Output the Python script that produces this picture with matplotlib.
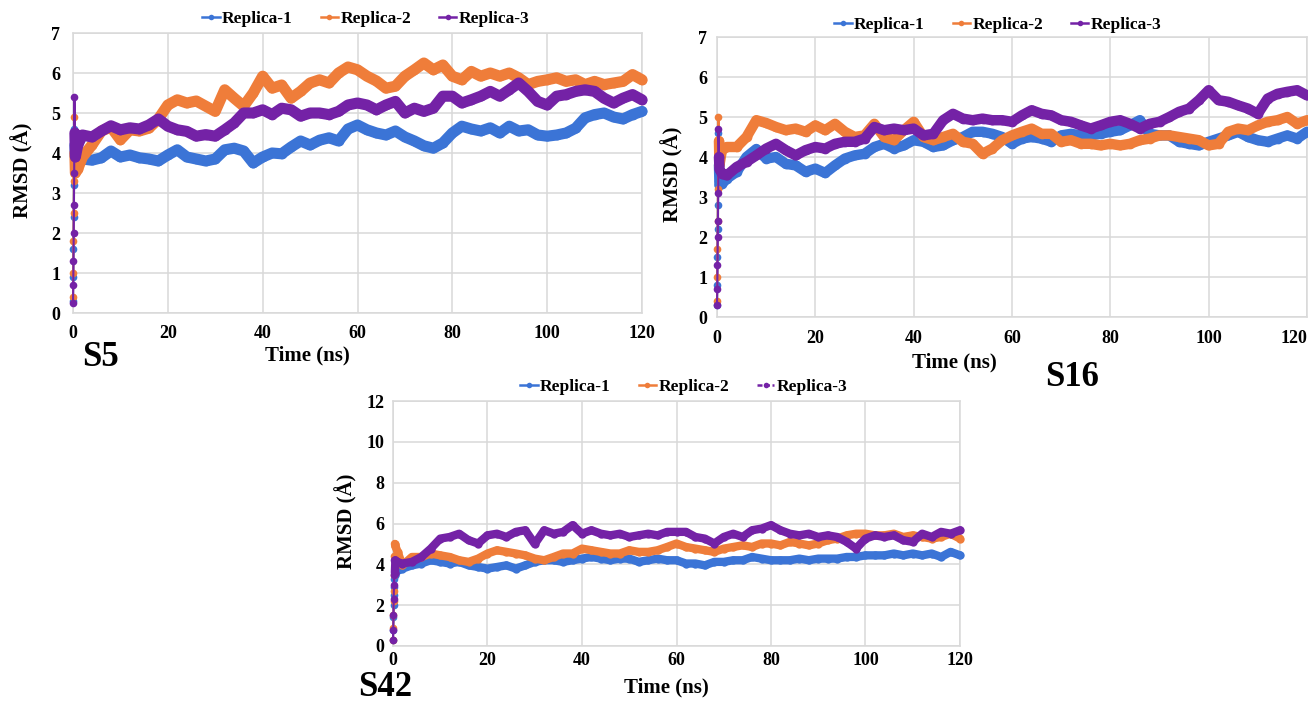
import matplotlib
matplotlib.use("Agg")
import matplotlib.pyplot as plt
from matplotlib.lines import Line2D

plt.rcParams['font.family'] = ['Liberation Serif', 'DejaVu Serif']
plt.rcParams['font.weight'] = 'bold'

# Sampling times (ns): dense start-up frames, then every 2 ns
TIME = [0.0, 0.05, 0.1, 0.15, 0.2, 0.25, 0.3, 0.4, 0.5, 1.0] + list(range(2, 121, 2))
N_START = 8  # frames of the initial rise drawn as a thin dotted column

# ---- S5 RMSD (Å) ----
S5_R1 = [0.3, 0.9, 1.6, 2.4, 3.2, 4.0, 4.6, 4.2, 3.9, 3.85,
         3.85, 3.82, 3.88, 4.05, 3.90, 3.95, 3.88, 3.85, 3.80, 3.95,
         4.08, 3.90, 3.85, 3.80, 3.85, 4.08, 4.12, 4.05, 3.75, 3.90,
         4.00, 3.98, 4.15, 4.30, 4.20, 4.32, 4.38, 4.30, 4.60, 4.70,
         4.58, 4.50, 4.45, 4.55, 4.40, 4.30, 4.18, 4.12, 4.25, 4.50,
         4.67, 4.60, 4.55, 4.63, 4.50, 4.67, 4.55, 4.58, 4.45, 4.42,
         4.45, 4.50, 4.62, 4.88, 4.96, 5.00, 4.90, 4.85, 4.96, 5.04]
S5_R2 = [0.4, 1.0, 1.8, 2.5, 3.3, 4.1, 4.9, 4.0, 3.5, 3.6,
         3.90, 4.20, 4.55, 4.65, 4.33, 4.58, 4.55, 4.62, 4.85, 5.20,
         5.33, 5.25, 5.30, 5.17, 5.04, 5.58, 5.37, 5.17, 5.50, 5.92,
         5.62, 5.70, 5.37, 5.54, 5.75, 5.83, 5.75, 6.00, 6.15, 6.08,
         5.92, 5.80, 5.62, 5.67, 5.92, 6.08, 6.25, 6.08, 6.20, 5.92,
         5.83, 6.04, 5.92, 6.00, 5.92, 6.00, 5.88, 5.71, 5.79, 5.83,
         5.88, 5.79, 5.83, 5.71, 5.79, 5.71, 5.75, 5.79, 5.96, 5.83]
S5_R3 = [0.25, 0.7, 1.3, 2.0, 2.7, 3.5, 5.4, 4.5, 3.9, 4.2,
         4.45, 4.40, 4.55, 4.68, 4.58, 4.63, 4.60, 4.70, 4.85, 4.67,
         4.58, 4.54, 4.42, 4.46, 4.42, 4.58, 4.75, 5.00, 5.00, 5.08,
         4.96, 5.12, 5.08, 4.92, 5.00, 5.00, 4.96, 5.04, 5.20, 5.25,
         5.20, 5.08, 5.20, 5.29, 5.00, 5.12, 5.04, 5.12, 5.42, 5.42,
         5.25, 5.33, 5.42, 5.54, 5.42, 5.58, 5.75, 5.54, 5.29, 5.20,
         5.42, 5.46, 5.54, 5.58, 5.54, 5.37, 5.25, 5.37, 5.46, 5.33]

# ---- S16 RMSD (Å) ----
S16_R1 = [0.3, 0.8, 1.5, 2.2, 2.8, 3.4, 4.6, 3.8, 3.3, 3.33,
          3.46, 3.63, 4.00, 4.20, 3.96, 4.00, 3.83, 3.79, 3.63, 3.71,
          3.60, 3.79, 3.96, 4.04, 4.08, 4.25, 4.33, 4.21, 4.29, 4.42,
          4.38, 4.25, 4.29, 4.42, 4.50, 4.63, 4.63, 4.58, 4.50, 4.33,
          4.46, 4.50, 4.46, 4.38, 4.54, 4.58, 4.54, 4.54, 4.58, 4.63,
          4.67, 4.79, 4.92, 4.58, 4.54, 4.54, 4.38, 4.33, 4.29, 4.38,
          4.46, 4.54, 4.63, 4.50, 4.42, 4.38, 4.46, 4.54, 4.46, 4.63]
S16_R2 = [0.4, 1.0, 1.7, 2.4, 3.2, 4.2, 5.0, 4.4, 3.8, 4.17,
          4.25, 4.25, 4.50, 4.92, 4.85, 4.75, 4.67, 4.71, 4.63, 4.79,
          4.67, 4.83, 4.63, 4.50, 4.54, 4.83, 4.50, 4.42, 4.67, 4.88,
          4.50, 4.42, 4.50, 4.58, 4.38, 4.33, 4.08, 4.21, 4.42, 4.54,
          4.63, 4.71, 4.58, 4.58, 4.38, 4.42, 4.33, 4.33, 4.29, 4.33,
          4.29, 4.33, 4.42, 4.46, 4.54, 4.54, 4.50, 4.46, 4.42, 4.29,
          4.33, 4.63, 4.71, 4.67, 4.79, 4.88, 4.92, 5.00, 4.83, 4.92]
S16_R3 = [0.3, 0.7, 1.3, 2.0, 2.4, 3.1, 4.7, 4.0, 3.7, 3.58,
          3.54, 3.75, 3.88, 4.04, 4.21, 4.33, 4.17, 4.04, 4.17, 4.25,
          4.21, 4.33, 4.38, 4.38, 4.46, 4.75, 4.67, 4.71, 4.67, 4.71,
          4.54, 4.58, 4.92, 5.08, 4.96, 4.92, 4.96, 4.92, 4.92, 4.88,
          5.04, 5.17, 5.08, 5.04, 4.92, 4.88, 4.79, 4.71, 4.79, 4.88,
          4.92, 4.83, 4.71, 4.83, 4.88, 5.00, 5.13, 5.21, 5.42, 5.67,
          5.42, 5.38, 5.29, 5.21, 5.08, 5.46, 5.58, 5.63, 5.67, 5.54]

# ---- S42 RMSD (Å) ----
S42_R1 = [0.3, 0.8, 1.4, 2.0, 2.5, 2.9, 3.3, 3.5, 3.6, 3.7,
          3.79, 3.95, 4.04, 4.20, 4.12, 4.04, 4.12, 3.95, 3.87, 3.79,
          3.87, 3.95, 3.79, 3.95, 4.12, 4.20, 4.20, 4.12, 4.20, 4.28,
          4.36, 4.28, 4.20, 4.28, 4.28, 4.12, 4.20, 4.28, 4.20, 4.20,
          4.04, 4.04, 3.95, 4.12, 4.12, 4.20, 4.20, 4.36, 4.28, 4.20,
          4.20, 4.20, 4.28, 4.20, 4.28, 4.28, 4.28, 4.36, 4.36, 4.44,
          4.44, 4.44, 4.53, 4.44, 4.53, 4.44, 4.53, 4.36, 4.61, 4.44]
S42_R2 = [0.3, 0.9, 1.5, 2.2, 2.7, 3.5, 4.4, 5.0, 4.9, 4.6,
          3.95, 4.36, 4.36, 4.53, 4.44, 4.36, 4.20, 4.12, 4.28, 4.53,
          4.69, 4.61, 4.53, 4.44, 4.28, 4.20, 4.36, 4.53, 4.53, 4.77,
          4.69, 4.61, 4.53, 4.53, 4.69, 4.61, 4.61, 4.69, 4.85, 5.02,
          4.85, 4.77, 4.69, 4.61, 4.77, 4.85, 4.93, 4.85, 5.02, 5.02,
          4.93, 5.10, 5.02, 4.93, 5.02, 5.18, 5.26, 5.42, 5.50, 5.50,
          5.42, 5.42, 5.50, 5.34, 5.42, 5.34, 5.26, 5.34, 5.50, 5.26]
S42_R3 = [0.3, 0.8, 1.5, 2.3, 3.0, 3.5, 4.2, 3.6, 4.2, 4.1,
          4.04, 4.12, 4.36, 4.77, 5.26, 5.34, 5.50, 5.18, 5.02, 5.42,
          5.50, 5.34, 5.59, 5.67, 5.00, 5.67, 5.50, 5.59, 5.92, 5.50,
          5.67, 5.50, 5.42, 5.50, 5.34, 5.42, 5.50, 5.42, 5.59, 5.59,
          5.59, 5.34, 5.26, 5.02, 5.34, 5.50, 5.34, 5.67, 5.75, 5.92,
          5.67, 5.50, 5.42, 5.50, 5.34, 5.42, 5.34, 5.10, 4.77, 5.26,
          5.42, 5.34, 5.42, 5.18, 5.10, 5.50, 5.34, 5.59, 5.50, 5.67]

LABELS = ['Replica-1', 'Replica-2', 'Replica-3']
COLORS = ['#3b74d6', '#ef7d3a', '#7422a6']
GRID = '#d9d9d9'

W, H = 1308, 703
fig = plt.figure(figsize=(W / 100, H / 100), dpi=100)


def px_rect(x0, y0, x1, y1):
    return [x0 / W, 1 - y1 / H, (x1 - x0) / W, (y1 - y0) / H]


def panel(rect, series, ymax, ystep, xpad, ypad, lw, ms):
    ax = fig.add_axes(px_rect(*rect))
    ax.set_axisbelow(True)
    for vals, col in zip(series, COLORS):
        # initial rise: thin line with separate dots
        ax.plot(TIME[:N_START], vals[:N_START], color=col, lw=1.5, marker='o', ms=5.5,
                mew=0, clip_on=False, zorder=3)
        # equilibrated trajectory: thick band
        ax.plot(TIME[N_START - 1:], vals[N_START - 1:], color=col, lw=lw, marker='o', ms=ms,
                mew=0, solid_joinstyle='round', solid_capstyle='round', clip_on=False, zorder=3)
    ax.set_xlim(0, 120)
    ax.set_ylim(0, ymax)
    ax.set_xticks(range(0, 121, 20))
    ax.set_yticks(range(0, ymax + 1, ystep))
    ax.grid(True, color=GRID, lw=1.1)
    for s in ax.spines.values():
        s.set_color(GRID)
        s.set_linewidth(1.1)
    ax.tick_params(axis='x', length=0, labelsize=13, pad=xpad)
    ax.tick_params(axis='y', length=0, labelsize=13, pad=ypad)
    return ax


def legend(cx, cy, dashed_last=False):
    handles = []
    for i, (lab, col) in enumerate(zip(LABELS, COLORS)):
        ls = (0, (2, 1)) if (dashed_last and i == 2) else '-'
        handles.append(Line2D([0], [0], color=col, lw=1.8, ls=ls, marker='o', ms=4, mew=0, label=lab))
    fig.legend(handles=handles, loc='center', bbox_to_anchor=(cx / W, 1 - cy / H), ncol=3,
               frameon=False, fontsize=12.5, handlelength=1.0, handletextpad=0.15,
               columnspacing=1.6, borderpad=0)


def text(x, y, s, size, rot=0):
    fig.text(x / W, 1 - y / H, s, ha='center', va='center', fontsize=size,
             fontweight='bold', rotation=rot)


# S5
panel((73, 33, 642, 313), [S5_R1, S5_R2, S5_R3], 7, 1, 9, 9, 8.0, 7)
legend(366, 19)
text(22, 170, 'RMSD (Å)', 15, 90)
text(307, 355, 'Time (ns)', 15)
text(101, 358, 'S5', 25)

# S16
ax16 = panel((717, 37, 1307, 317), [S16_R1, S16_R2, S16_R3], 7, 1, 9, 7, 7.5, 7)
ax16.get_xticklabels()[-1].set_horizontalalignment('right')
legend(998, 25)
text(672, 174, 'RMSD (Å)', 15, 90)
text(954, 362, 'Time (ns)', 15)
text(1072, 378, 'S16', 25)

# S42
panel((393, 401, 960, 646), [S42_R1, S42_R2, S42_R3], 12, 2, 4, 6, 6.0, 6)
legend(684, 387, dashed_last=True)
text(346, 521, 'RMSD (Å)', 15, 90)
text(666, 687, 'Time (ns)', 15)
text(385, 687, 'S42', 25)

fig.savefig('out.png', dpi=100)
